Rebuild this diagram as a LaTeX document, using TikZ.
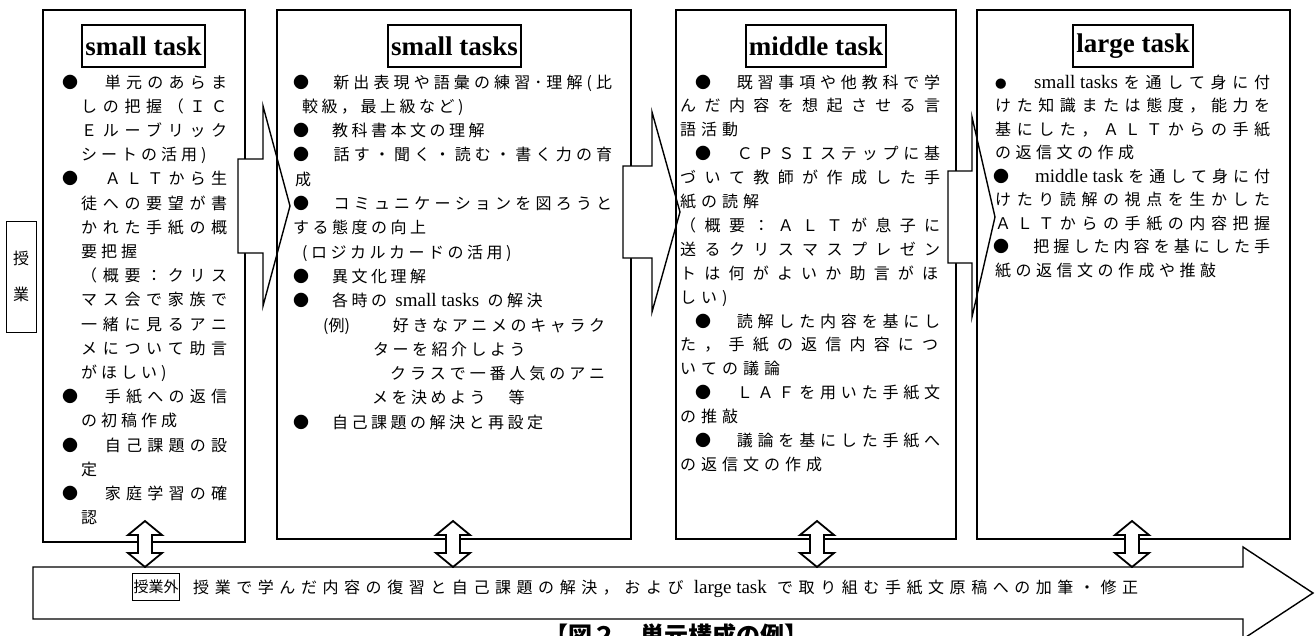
\documentclass[tikz,border=0pt]{standalone}
\usepackage{fontspec}
\setmainfont{Liberation Serif}
\newfontfamily\jp{Noto Sans CJK JP}
\makeatletter
\def\jl@#1#2\jl@end{{#1}\if\relax\detokenize{#2}\relax\else\jlsep\jl@#2\jl@end\fi}
\newcommand\J[3]{\hbox{\kern#1pt\hbox to #2pt{\def\jlsep{\hfil}\jl@#3\jl@end}}}
\newcommand\N[2]{\hbox{\kern#1pt\def\jlsep{\kern\ngap}\jl@#2\jl@end}}
\newcommand\lines[3]{\vtop{\baselineskip=#1pt\lineskiplimit=-100pt\lineskip=0pt\def\ngap{#2pt}#3}}
\makeatother
\newcommand\lat{\fontsize{19}{19}\selectfont\rmfamily}
\begin{document}
\begin{tikzpicture}[x=1pt,y=-1pt,
  box/.style={draw, line width=1.4pt, inner sep=0pt, outer sep=0pt},
  ttl/.style={draw, line width=1.8pt, inner xsep=3pt, inner ysep=0pt, minimum height=42pt, font=\fontsize{27}{27}\selectfont\bfseries},
  blk/.style={draw, line width=1.4pt, fill=white, line join=miter},
  dbl/.style={draw, line width=1.8pt, fill=white, line join=miter},
  txt/.style={anchor=base west, inner sep=0pt, font=\jp\fontsize{16}{24}\selectfont},
  lab/.style={draw, line width=1pt, minimum width=30pt, minimum height=111pt, inner sep=0pt, align=center, font=\jp\fontsize{16}{36}\selectfont}]
\useasboundingbox (0,0) rectangle (1315,635);
\clip (0,0) rectangle (1315,635);
\fill[white] (0,0) rectangle (1315,635);

% left label
\node[lab] (L) at (21,276.5) {授\\業};

% box 1
\node[box, minimum width=202pt, minimum height=532pt] (B1) at (144,276) {};
\draw[blk] (238,159) -- (263,159) -- (263,106) -- (290,206) -- (263,306) -- (263,253) -- (238,253) -- cycle;
% box 2
\node[box, minimum width=354pt, minimum height=529pt] (B2) at (454,274.5) {};
\draw[blk] (623,166) -- (652,166) -- (652,112) -- (680,212) -- (652,312) -- (652,258) -- (623,258) -- cycle;
% box 3
\node[box, minimum width=280pt, minimum height=529pt] (B3) at (816,274.5) {};
\draw[blk] (948,171) -- (972,171) -- (972,117) -- (995,217) -- (972,317) -- (972,263) -- (948,263) -- cycle;
% box 4
\node[box, minimum width=313pt, minimum height=529pt] (B4) at (1133.5,274.5) {};

% titles
\node[ttl] (T1) at (143.5,46) {small task};
\node[ttl] (T2) at (454.5,46) {small tasks};
\node[ttl] (T3) at (816,46) {middle task};
\node[ttl] (T4) at (1133,46) {large task};

% texts
\node[txt] (X1) at (62,88) {\lines{24.2}{4}{%
\J{0}{165}{●　単元のあらま}
\J{19}{146}{しの把握（ＩＣ}
\J{19}{146}{Ｅルーブリック}
\N{19}{シートの活用)}
\J{0}{165}{●　ＡＬＴから生}
\J{19}{146}{徒への要望が書}
\J{19}{146}{かれた手紙の概}
\N{19}{要把握}
\J{19}{146}{（概要：クリス}
\J{19}{146}{マス会で家族で}
\J{19}{146}{一緒に見るアニ}
\J{19}{146}{メについて助言}
\N{19}{がほしい)}
\J{0}{165}{●　手紙への返信}
\N{19}{の初稿作成}
\J{0}{165}{●　自己課題の設}
\N{19}{定}
\J{0}{165}{●　家庭学習の確}
\N{19}{認}}};

\node[txt] (X2) at (293,88) {\lines{24.3}{3.5}{%
\J{0}{319}{●　新出表現や語彙の練習･理解(比}
\N{9}{較級，最上級など)}
\N{0}{●　教科書本文の理解}
\J{0}{319}{●　話す・聞く・読む・書く力の育}
\N{2}{成}
\J{0}{319}{●　コミュニケーションを図ろうと}
\N{0}{する態度の向上}
\N{9}{(ロジカルカードの活用)}
\N{0}{●　異文化理解}
\N{0}{●　各時の{\lat\ small tasks\ }の解決}
\J{30}{282}{{(例)}　　好きなアニメのキャラク}
\N{80}{ターを紹介しよう}
\J{97}{215}{クラスで一番人気のアニ}
\N{79}{メを決めよう　等}
\N{0}{●　自己課題の解決と再設定}}};

\node[txt] (X3) at (680,88) {\lines{23.9}{5}{%
\J{15}{245}{●　既習事項や他教科で学}
\J{0}{260}{んだ内容を想起させる言}
\N{0}{語活動}
\J{15}{245}{●　ＣＰＳＩステップに基}
\J{0}{260}{づいて教師が作成した手}
\N{0}{紙の読解}
\J{0}{260}{（概要：ＡＬＴが息子に}
\J{0}{260}{送るクリスマスプレゼン}
\J{0}{258}{トは何がよいか助言がほ}
\N{0}{しい)}
\J{15}{245}{●　読解した内容を基にし}
\J{0}{258}{た，手紙の返信内容につ}
\N{0}{いての議論}
\J{15}{245}{●　ＬＡＦを用いた手紙文}
\N{0}{の推敲}
\J{15}{245}{●　議論を基にした手紙へ}
\N{0}{の返信文の作成}}};

\node[txt] (X4) at (995,88) {\lines{23.5}{4.5}{%
\J{0}{275}{{\fontsize{11.5}{11.5}\selectfont ●}　{\lat small tasks}を通して身に付}
\J{0}{275}{けた知識または態度，能力を}
\J{0}{275}{基にした，ＡＬＴからの手紙}
\N{0}{の返信文の作成}
\J{-2}{277}{●　{\lat middle task}を通して身に付}
\J{0}{275}{けたり読解の視点を生かした}
\J{0}{275}{ＡＬＴからの手紙の内容把握}
\J{-2}{277}{●　把握した内容を基にした手}
\N{0}{紙の返信文の作成や推敲}}};

% bottom arrow
\draw[blk] (33,567) -- (1243,567) -- (1243,547) -- (1313,593) -- (1243,639) -- (1243,619) -- (33,619) -- cycle;
\node[draw, line width=1.4pt, inner sep=1pt, minimum height=27pt, font=\jp\fontsize{15}{15}\selectfont] (OUT) at (156,587) {授業外};
\node[txt] (BT) at (193,593) {\J{0}{945}{授業で学んだ内容の復習と自己課題の解決，および{\lat\ large task\ }で取り組む手紙文原稿への加筆・修正}};

% double arrows
\foreach \c/\n in {145/D1,453/D2,817/D3,1132/D4}{
  \draw[dbl] (\c,521) -- (\c+17,535) -- (\c+7,535) -- (\c+7,553) -- (\c+17,553) -- (\c,567) -- (\c-17,553) -- (\c-7,553) -- (\c-7,535) -- (\c-17,535) -- cycle;
}

% caption (cut off by the page edge, as in the reference)
\node[anchor=base, inner sep=0pt, font=\jp\bfseries\fontsize{24}{24}\selectfont] (CAP) at (676,644) {【図２　単元構成の例】};
\end{tikzpicture}
\end{document}
